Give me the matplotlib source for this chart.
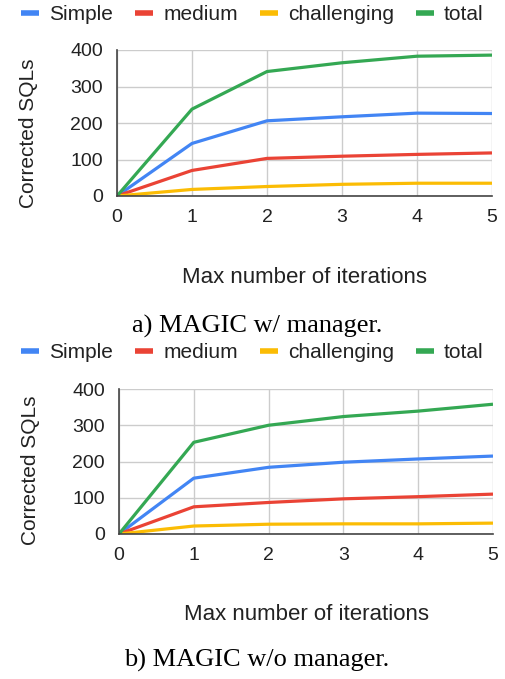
import matplotlib
matplotlib.use("Agg")
import matplotlib.pyplot as plt

iterations = [0, 1, 2, 3, 4, 5]
series_names = ["Simple", "medium", "challenging", "total"]
series_colors = ["#4285F4", "#EA4335", "#FBBC04", "#34A853"]

# a) with manager
with_simple = [0, 144, 206, 217, 227, 226]
with_medium = [0, 70, 103, 109, 114, 118]
with_challenging = [0, 18, 26, 32, 35, 35]
with_total = [0, 238, 341, 365, 383, 386]

# b) without manager
wo_simple = [0, 154, 184, 198, 207, 215]
wo_medium = [0, 75, 87, 97, 103, 110]
wo_challenging = [0, 22, 27, 28, 28, 30]
wo_total = [0, 253, 300, 324, 339, 358]

y_ticks = [0, 100, 200, 300, 400]
captions = ["a) MAGIC w/ manager.", "b) MAGIC w/o manager."]

W, H = 505, 679
plt.rcParams['font.family'] = ['Liberation Sans', 'DejaVu Sans']
fig = plt.figure(figsize=(W / 100, H / 100), dpi=100)


def px_axes(left, top, right, bottom):
    return fig.add_axes([left / W, 1 - bottom / H, (right - left) / W, (bottom - top) / H])


def draw_panel(ax, data, legend_y, caption, caption_y, label_y):
    for vals, name, col in zip(data, series_names, series_colors):
        ax.plot(iterations, vals, color=col, lw=2.3, label=name, solid_capstyle='butt')
    ax.set_xlim(0, 5)
    ax.set_ylim(0, 400)
    ax.set_yticks(y_ticks)
    ax.set_xticks(iterations)
    ax.grid(True, color="#cccccc", lw=1)
    ax.set_axisbelow(True)
    for s in ["top", "right"]:
        ax.spines[s].set_visible(False)
    for s in ["left", "bottom"]:
        ax.spines[s].set_color("#444444")
        ax.spines[s].set_linewidth(1.2)
    ax.tick_params(length=0, labelsize=14, colors="#222222")
    ax.tick_params(axis="y", pad=10)
    ax.tick_params(axis="x", pad=9)
    ax.set_ylabel("Corrected SQLs", fontsize=15, color="#222222", va="center")
    ax.yaxis.set_label_coords(-0.237, label_y)
    ax.set_xlabel("Max number of iterations", fontsize=16, color="#222222", va="center")
    ax.xaxis.set_label_coords(0.5, -0.555)
    fig.legend(*ax.get_legend_handles_labels(), loc="center", ncol=4,
               bbox_to_anchor=(0.5, 1 - legend_y / H), frameon=False,
               fontsize=15, handlelength=0.85, handletextpad=0.5,
               columnspacing=1.05, labelcolor="#222222")
    for line in fig.legends[-1].get_lines():
        line.set_linewidth(4)
    fig.text(257 / W, 1 - caption_y / H, caption, ha="center", va="baseline",
             fontsize=19, family="Liberation Serif")


ax1 = px_axes(117, 50, 492, 196)
draw_panel(ax1, [with_simple, with_medium, with_challenging, with_total],
           15, captions[0], 333, 0.43)

ax2 = px_axes(119, 389, 493, 534)
draw_panel(ax2, [wo_simple, wo_medium, wo_challenging, wo_total],
           353, captions[1], 667, 0.44)

fig.savefig("out.png", dpi=100)
